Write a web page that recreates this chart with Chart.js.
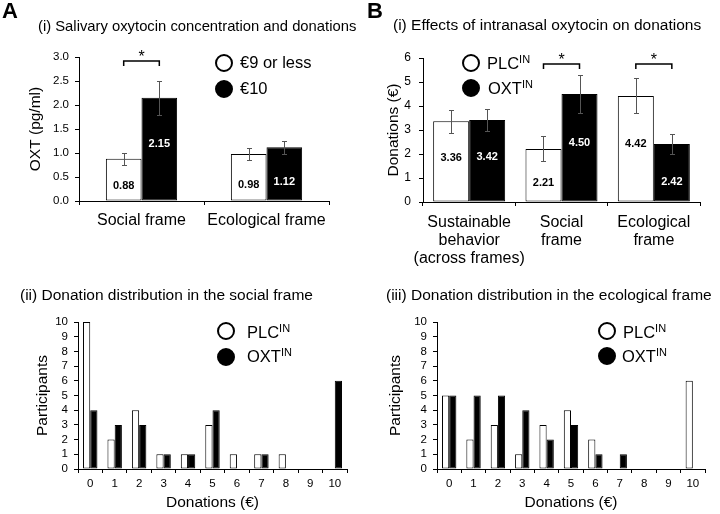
<!DOCTYPE html>
<html>
<head>
<meta charset="utf-8">
<script src="https://cdn.jsdelivr.net/npm/chart.js@4.4.1/dist/chart.umd.min.js"></script>
<style>
  body { margin: 0; background: #fff; font-family: "Liberation Sans", Arial, sans-serif; color: #000; }
  #page { position: relative; width: 720px; height: 514px; overflow: hidden; }
  canvas { position: absolute; }
  .txt { position: absolute; white-space: nowrap; line-height: 20px; }
  .letter { font-weight: bold; font-size: 22px; line-height: 22px; }
  .ttl { font-size: 15.5px; }
  .dot { position: absolute; width: 18px; height: 18px; border-radius: 50%; box-sizing: border-box; border: 2px solid #000; z-index: 2; }
  .dot.fill { background: #000; }
  .leg { font-size: 16.5px; z-index: 2; }
  .leg sup { font-size: 11px; vertical-align: 6px; line-height: 0; }
</style>
</head>
<body>
<div id="page">
  <canvas id="oxtChart" width="345" height="250" style="left:0;top:0"></canvas>
  <canvas id="donChart" width="360" height="272" style="left:360px;top:0"></canvas>
  <canvas id="socChart" width="360" height="214" style="left:0;top:300px"></canvas>
  <canvas id="ecoChart" width="360" height="214" style="left:360px;top:300px"></canvas>

  <div class="txt letter" style="left:2px;top:0">A</div>
  <div class="txt letter" style="left:367px;top:0">B</div>
  <div class="txt ttl" style="left:38px;top:16px;font-size:14.8px">(i) Salivary oxytocin concentration and donations</div>
  <div class="txt ttl" style="left:393px;top:15px">(i) Effects of intranasal oxytocin on donations</div>
  <div class="txt ttl" style="left:20px;top:285px">(ii) Donation distribution in the social frame</div>
  <div class="txt ttl" style="left:386px;top:285px">(iii) Donation distribution in the ecological frame</div>

  <div class="dot" style="left:215px;top:54px"></div>
  <div class="dot fill" style="left:215px;top:80px"></div>
  <div class="txt leg" style="left:240px;top:52px">€9 or less</div>
  <div class="txt leg" style="left:240px;top:78px">€10</div>

  <div class="dot" style="left:462px;top:54px"></div>
  <div class="dot fill" style="left:462px;top:79px"></div>
  <div class="txt leg" style="left:487px;top:53px">PLC<sup>IN</sup></div>
  <div class="txt leg" style="left:488px;top:78px">OXT<sup>IN</sup></div>

  <div class="dot" style="left:217px;top:322px"></div>
  <div class="dot fill" style="left:217px;top:348px"></div>
  <div class="txt leg" style="left:247px;top:322px">PLC<sup>IN</sup></div>
  <div class="txt leg" style="left:247px;top:346px">OXT<sup>IN</sup></div>

  <div class="dot" style="left:598px;top:322px"></div>
  <div class="dot fill" style="left:598px;top:347px"></div>
  <div class="txt leg" style="left:623px;top:322px">PLC<sup>IN</sup></div>
  <div class="txt leg" style="left:622px;top:346px">OXT<sup>IN</sup></div>
</div>
<script>
// (A i) salivary OXT by donation group
const oxtCats = ["Social frame", "Ecological frame"];
const oxtLow = [0.88, 0.98];      // €9 or less
const oxtHigh = [2.15, 1.12];     // €10
const oxtLowErr = [0.13, 0.13];
const oxtHighErr = [0.36, 0.14];
const oxtSig = [0];

// (B i) donations, placebo vs oxytocin
const donCats = [["Sustainable", "behavior", "(across frames)"], ["Social", "frame"], ["Ecological", "frame"]];
const donPlc = [3.36, 2.21, 4.42];
const donOxt = [3.42, 4.50, 2.42];
const donPlcErr = [0.48, 0.52, 0.73];
const donOxtErr = [0.45, 0.78, 0.40];
const donSig = [1, 2];

// (ii) / (iii) donation histograms
const histCats = ["0", "1", "2", "3", "4", "5", "6", "7", "8", "9", "10"];
const socPlc = [10, 2, 4, 1, 1, 3, 1, 1, 1, 0, 0];
const socOxt = [4, 3, 3, 1, 1, 4, 0, 1, 0, 0, 6];
const ecoPlc = [5, 2, 3, 1, 3, 4, 2, 0, 0, 0, 6];
const ecoOxt = [5, 5, 5, 4, 2, 3, 1, 1, 0, 0, 0];

Chart.defaults.font.family = '"Liberation Sans", Arial, sans-serif';
Chart.defaults.color = "#000";

const errorBars = {
  id: "errorBars",
  afterDatasetsDraw(chart, args, opts) {
    if (!opts.errors) return;
    const { ctx } = chart;
    const y = chart.scales.y;
    ctx.save();
    ctx.strokeStyle = "#555";
    ctx.lineWidth = 1;
    chart.data.datasets.forEach((ds, di) => {
      chart.getDatasetMeta(di).data.forEach((bar, i) => {
        const v = ds.data[i], e = opts.errors[di][i];
        const x = Math.round(bar.x) + 0.5;
        const t = Math.round(y.getPixelForValue(v + e)) + 0.5;
        const b = Math.round(y.getPixelForValue(v - e)) + 0.5;
        ctx.beginPath();
        ctx.moveTo(x, t); ctx.lineTo(x, b);
        ctx.moveTo(x - 2.5, t); ctx.lineTo(x + 2.5, t);
        ctx.moveTo(x - 2.5, b); ctx.lineTo(x + 2.5, b);
        ctx.stroke();
      });
    });
    ctx.restore();
  }
};

// numbers written inside the bars
const valueLabels = {
  id: "valueLabels",
  afterDatasetsDraw(chart, args, opts) {
    if (!opts.show) return;
    const { ctx } = chart;
    const y = chart.scales.y;
    ctx.save();
    ctx.font = 'bold 11px "Liberation Sans", Arial, sans-serif';
    ctx.textAlign = "center";
    ctx.textBaseline = "middle";
    chart.data.datasets.forEach((ds, di) => {
      ctx.fillStyle = di === 0 ? "#000" : "#fff";
      chart.getDatasetMeta(di).data.forEach((bar, i) => {
        const v = ds.data[i];
        const f = v / y.max > 0.45 ? 0.55 : 0.35;
        ctx.fillText(v.toFixed(2), bar.x, y.getPixelForValue(v * f));
      });
    });
    ctx.restore();
  }
};

const brackets = {
  id: "brackets",
  afterDatasetsDraw(chart, args, opts) {
    if (!opts.sig) return;
    const { ctx, chartArea } = chart;
    const m0 = chart.getDatasetMeta(0), m1 = chart.getDatasetMeta(1);
    ctx.save();
    ctx.strokeStyle = "#000";
    ctx.lineWidth = 1.5;
    ctx.font = '16px "Liberation Sans", Arial, sans-serif';
    ctx.textAlign = "center";
    ctx.textBaseline = "alphabetic";
    ctx.fillStyle = "#000";
    opts.sig.forEach(i => {
      const x1 = m0.data[i].x, x2 = m1.data[i].x;
      const yy = chartArea.top + opts.off;
      ctx.beginPath();
      ctx.moveTo(x1, yy + opts.drop); ctx.lineTo(x1, yy);
      ctx.lineTo(x2, yy); ctx.lineTo(x2, yy + opts.drop);
      ctx.stroke();
      ctx.fillText("*", (x1 + x2) / 2, yy + 1);
    });
    ctx.restore();
  }
};

function barChart(id, o) {
  const ds = (data, fill) => ({
    data, backgroundColor: fill, borderColor: "#000", borderWidth: 1, borderSkipped: false,
    categoryPercentage: o.cat, barPercentage: 1
  });
  return new Chart(document.getElementById(id), {
    type: "bar",
    data: { labels: o.labels, datasets: [ds(o.a, "#fff"), ds(o.b, "#000")] },
    options: {
      responsive: false,
      animation: false,
      layout: { padding: o.pad },
      plugins: {
        legend: { display: false },
        tooltip: { enabled: false },
        errorBars: { errors: o.err },
        valueLabels: { show: o.values },
        brackets: { sig: o.sig, off: o.bOff, drop: 5 }
      },
      scales: {
        x: {
          grid: { offset: true, drawOnChartArea: false, color: "#000", tickLength: 4 },
          border: { color: "#000" },
          ticks: { font: { size: o.xFont, lineHeight: 1.15 }, color: "#000", padding: o.xPad, maxRotation: 0, autoSkip: false },
          title: o.xTitle
            ? { display: true, text: o.xTitle, font: { size: 15.5 }, color: "#000", padding: { top: 0, bottom: o.xTitlePad } }
            : { display: false },
          afterFit: s => { s.height = o.xH; }
        },
        y: {
          min: 0, max: o.max,
          grid: { drawOnChartArea: false, color: "#000", tickLength: 4 },
          border: { color: "#000" },
          ticks: { stepSize: o.step, autoSkip: false, font: { size: o.yFont }, color: "#000", padding: o.yPad, callback: o.fmt },
          title: { display: true, text: o.yTitle, font: { size: 15.5 }, color: "#000", padding: { top: o.yTitleOff, bottom: 0 } },
          afterFit: s => { s.width = o.yW; }
        }
      }
    },
    plugins: [errorBars, valueLabels, brackets]
  });
}

barChart("oxtChart", {
  labels: oxtCats, a: oxtLow, b: oxtHigh, err: [oxtLowErr, oxtHighErr], values: true, sig: oxtSig, bOff: 4,
  cat: 0.57, pad: { top: 57, left: 0, right: 16, bottom: 0 }, yW: 79, xH: 49,
  max: 3, step: 0.5, fmt: v => v.toFixed(1), yFont: 11.5, yPad: 6, yTitle: "OXT (pg/ml)", yTitleOff: 26,
  xFont: 16, xPad: 6
});

barChart("donChart", {
  labels: donCats, a: donPlc, b: donOxt, err: [donPlcErr, donOxtErr], values: true, sig: donSig, bOff: 6,
  cat: 0.78, pad: { top: 58, left: 0, right: 20, bottom: 0 }, yW: 63, xH: 70,
  max: 6, step: 1, yFont: 12, yPad: 8, yTitle: "Donations (€)", yTitleOff: 24,
  xFont: 16, xPad: 7
});

barChart("socChart", {
  labels: histCats, a: socPlc, b: socOxt,
  cat: 0.59, pad: { top: 22, left: 0, right: 13, bottom: 0 }, yW: 78, xH: 45,
  max: 10, step: 1, yFont: 11.5, yPad: 6, yTitle: "Participants", yTitleOff: 33,
  xFont: 11.5, xPad: 4, xTitle: "Donations (€)", xTitlePad: 2
});

barChart("ecoChart", {
  labels: histCats, a: ecoPlc, b: ecoOxt,
  cat: 0.59, pad: { top: 22, left: 0, right: 15, bottom: 0 }, yW: 77, xH: 45,
  max: 10, step: 1, yFont: 11.5, yPad: 6, yTitle: "Participants", yTitleOff: 26,
  xFont: 11.5, xPad: 4, xTitle: "Donations (€)", xTitlePad: 2
});
</script>
</body>
</html>
